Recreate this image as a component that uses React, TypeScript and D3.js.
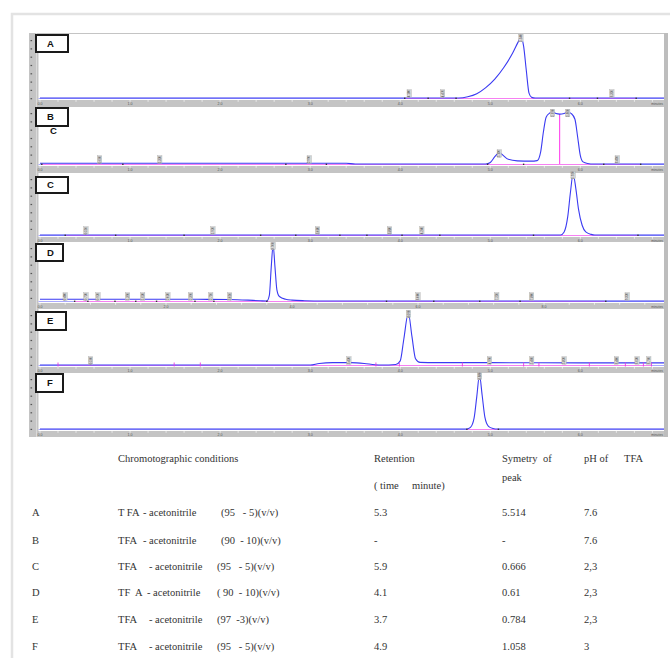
import React from "react";
import * as d3 from "d3";

type Pt = [number, number];

// ---- chromatogram data: [minute, relative intensity %] ----
const panelLetters = ["A", "B", "C", "D", "E", "F"];

const traceA: Pt[] = [[0, 0], [4.65, 0], [4.75, 2], [4.85, 7], [4.95, 17], [5.05, 31], [5.15, 50], [5.25, 74], [5.31, 92], [5.34, 100], [5.37, 85], [5.4, 45], [5.43, 8], [5.46, 1], [5.5, 0], [6.94, 0]];
const traceB: Pt[] = [[0, 1.5], [3.4, 1.5], [3.5, 0], [4.95, 0], [5.0, 3], [5.05, 14], [5.1, 22], [5.14, 17], [5.2, 9], [5.3, 6], [5.45, 5.5], [5.52, 6.5], [5.56, 24], [5.59, 62], [5.62, 90], [5.66, 98], [5.69, 100], [5.73, 97], [5.77, 96], [5.82, 97], [5.86, 100], [5.9, 97], [5.94, 86], [5.97, 52], [6.0, 16], [6.03, 4], [6.08, 1], [6.15, 0], [6.94, 0]];
const traceC: Pt[] = [[0, 0], [5.78, 0], [5.82, 5], [5.86, 30], [5.89, 70], [5.92, 100], [5.95, 76], [5.98, 42], [6.02, 16], [6.06, 5], [6.12, 1], [6.16, 0], [6.94, 0]];
const traceD: Pt[] = [[0, 3], [2.5, 3], [3.0, 2.6], [3.3, 1.5], [3.5, 0.4], [3.6, 0], [3.64, 10], [3.67, 60], [3.7, 100], [3.73, 60], [3.76, 20], [3.8, 8], [3.9, 3], [4.0, 1.5], [4.2, 0.5], [4.5, 0], [9.92, 0]];
const traceE: Pt[] = [[0, 0], [3.0, 0], [3.1, 3], [3.25, 4.5], [3.45, 4.5], [3.6, 3], [3.72, 0.5], [3.8, 0], [3.95, 1], [4.0, 8], [4.04, 50], [4.09, 100], [4.13, 55], [4.17, 12], [4.22, 5], [4.4, 4.5], [5.0, 4.5], [6.0, 4], [6.94, 4]];
const traceF: Pt[] = [[0, 0], [4.74, 0], [4.78, 3], [4.82, 20], [4.85, 60], [4.88, 100], [4.91, 62], [4.94, 22], [4.98, 5], [5.03, 1], [5.08, 0], [6.94, 0]];
const traces = [traceA, traceB, traceC, traceD, traceE, traceF];

// run time shown on each panel's axis (minutes) and major tick step
const axisMax = [6.94, 6.94, 6.94, 9.92, 6.94, 6.94];
const axisStep = [1, 1, 1, 2, 1, 1];

// retention times printed next to integrated peaks
const peakTimesA = [4.1, 4.47, 5.34, 6.35];
const peakTimesB = [0.66, 1.33, 2.99, 5.1, 5.69, 5.86, 6.41];
const peakTimesC = [0.51, 1.92, 3.08, 3.88, 4.24, 5.92];
const peakTimesD = [0.4, 0.73, 0.92, 1.39, 1.63, 2.03, 2.39, 2.71, 3.01, 3.7, 6.0, 7.25, 7.8, 9.32];
const peakTimesE = [0.56, 3.43, 4.09, 4.99, 5.46, 5.82, 6.4, 6.63, 6.76];
const peakTimesF = [4.88];
const peakTimes = [peakTimesA, peakTimesB, peakTimesC, peakTimesD, peakTimesE, peakTimesF];

// integration start / end markers
const markersA = [4.05, 4.31, 4.62, 5.88, 6.19, 6.62];
const markersB = [0.02, 0.92, 2.73, 3.18, 4.97, 5.37, 6.26, 6.67];
const markersC = [0.28, 0.84, 1.6, 2.45, 2.84, 3.33, 3.63, 4.02, 4.44, 5.48, 6.64];
const markersD = [0.55, 0.76, 1.19, 1.52, 1.85, 2.46, 2.76, 3.6, 5.5, 6.25, 6.98, 7.62, 8.98];
const markersE = [0.2, 1.49, 1.78, 3.73, 3.99, 4.69, 5.37, 5.54, 6.1, 6.5, 6.7, 6.79];
const markersF = [4.74, 5.09];
const markers = [markersA, markersB, markersC, markersD, markersE, markersF];

// ---- table data ----
const rowLetters = ["A", "B", "C", "D", "E", "F"];
const solventA = ["T FA", "TFA", "TFA", "TF  A", "TFA", "TFA"];
const ratios = ["(95   - 5)(v/v)", "(90  - 10)(v/v)", "(95   - 5)(v/v)", "( 90  - 10)(v/v)", "(97  -3)(v/v)", "(95   - 5)(v/v)"];
const retention = ["5.3", "-", "5.9", "4.1", "3.7", "4.9"];
const symmetry = ["5.514", "-", "0.666", "0.61", "0.784", "1.058"];
const phValues = ["7.6", "7.6", "2,3", "2,3", "2,3", "3"];

// panel geometry (pixels)
const geom = [
  { top: 33, plotTop: 34, peak: 37, base: 98, strip: 100, bottom: 107, box: [36, 35, 32, 17] },
  { top: 107, plotTop: 107, peak: 112, base: 164, strip: 166, bottom: 172, box: [36, 108, 32, 18] },
  { top: 172, plotTop: 173, peak: 174, base: 235, strip: 237, bottom: 242, box: [36, 177, 32, 16] },
  { top: 242, plotTop: 242, peak: 245, base: 301, strip: 303, bottom: 309, box: [36, 244, 27, 17] },
  { top: 309, plotTop: 309, peak: 313, base: 365, strip: 367, bottom: 373, box: [36, 312, 30, 18] },
  { top: 373, plotTop: 373, peak: 375, base: 429, strip: 431, bottom: 437, box: [36, 374, 27, 18] },
];

const X0 = 40;
const X1 = 665;
const PLOT_L = 38.5;
const PLOT_R = 664;
const TRACE = "#3a3af2";
const BASELINE = "#a9a9ff";
const PINK = "#ff7cf0";
const STRIP = "#c4c4c4";
const SANS = "'Liberation Sans', Arial, sans-serif";
const SERIF = "'Liberation Serif', 'Times New Roman', Times, serif";

function Panel({ i }: { i: number }) {
  const g = geom[i];
  const x = d3.scaleLinear().domain([0, axisMax[i]]).range([X0, X1]);
  const y = d3.scaleLinear().domain([0, 100]).range([g.base, g.peak]);
  const line = d3
    .line<Pt>()
    .x((d) => x(d[0]))
    .y((d) => y(d[1]))
    .curve(d3.curveMonotoneX);
  const data = traces[i];
  const valueAt = (t: number) => {
    const k = d3.bisector((d: Pt) => d[0]).left(data, t);
    if (k <= 0) return data[0][1];
    if (k >= data.length) return data[data.length - 1][1];
    const a = data[k - 1];
    const b = data[k];
    return a[1] + ((b[1] - a[1]) * (t - a[0])) / (b[0] - a[0]);
  };
  const majors = d3.range(0, axisMax[i] - 0.3, axisStep[i]);
  const minors = d3.range(0, axisMax[i], axisStep[i] / 5);
  const leftTicks = d3.range(g.plotTop + 6, g.strip - 1, 8.3);
  const mk = markers[i];
  const [bx, by, bw, bh] = g.box;
  return (
    <g>
      {/* ruler frame */}
      <rect x={29} y={g.top} width={639} height={g.bottom - g.top} fill={STRIP} />
      <rect x={PLOT_L} y={g.plotTop} width={PLOT_R - PLOT_L} height={g.strip - g.plotTop} fill="#fff" />
      <line x1={36.5} x2={36.5} y1={g.top} y2={g.bottom} stroke="#dadada" strokeWidth={1} />
      {leftTicks.map((ty, k) => (
        <rect key={k} x={30.5} y={ty} width={1.6} height={1.2} fill="#555" />
      ))}
      {/* bottom time axis */}
      {minors.map((t, k) => (
        <line key={k} x1={x(t)} x2={x(t)} y1={g.strip} y2={g.strip + 1.8} stroke="#f4f4f4" strokeWidth={0.8} />
      ))}
      {majors.map((t, k) => (
        <text key={k} x={x(t)} y={g.strip + 4.6} fontSize={3.6} fill="#555" textAnchor="middle" style={{ fontFamily: SANS }}>
          {t.toFixed(1)}
        </text>
      ))}
      <text x={663} y={g.strip + 4.6} fontSize={3.4} fill="#555" textAnchor="end" style={{ fontFamily: SANS }}>
        minutes
      </text>
      {/* zero line */}
      <line x1={PLOT_L} x2={PLOT_R} y1={g.base + 0.5} y2={g.base + 0.5} stroke={BASELINE} strokeWidth={1} />
      {/* integration baseline */}
      {mk.length > 1 && (
        <line x1={x(mk[0])} x2={x(mk[mk.length - 1])} y1={g.base + 0.5} y2={g.base + 0.5} stroke={PINK} strokeWidth={0.9} />
      )}
      {i === 1 && (
        <line x1={x(5.77)} x2={x(5.77)} y1={g.base} y2={y(96)} stroke="#ff44ee" strokeWidth={1.1} />
      )}
      {/* signal */}
      <path d={line(data) || ""} fill="none" stroke={TRACE} strokeWidth={1.1} />
      {mk.map((t, k) =>
        i === 4 ? (
          <line key={k} x1={x(t)} x2={x(t)} y1={g.base - 2.5} y2={g.base + 1.5} stroke="#e83ee0" strokeWidth={0.9} />
        ) : (
          <rect key={k} x={x(t) - 0.7} y={g.base - 0.4} width={1.4} height={1.4} fill="#333" />
        )
      )}
      {/* retention time tags */}
      {peakTimes[i].map((t, k) => {
        const v = valueAt(t);
        const big = v > 15;
        const cy = big ? y(v) + 1 : g.base - 4.5;
        const cx = x(t);
        return (
          <g key={k}>
            <rect x={cx - 2.2} y={cy - 3.8} width={4.4} height={7.6} fill="#d9d9d9" stroke="#9a9a9a" strokeWidth={0.3} />
            <text
              transform={`translate(${cx + 1.2},${cy}) rotate(-90)`}
              fontSize={3}
              fill="#444"
              textAnchor="middle"
              style={{ fontFamily: SANS }}
            >
              {t.toFixed(3)}
            </text>
          </g>
        );
      })}
      {/* panel tag */}
      <rect x={bx} y={by} width={bw} height={bh} fill="#fff" stroke="#1a1a1a" strokeWidth={2} />
      <text x={bx + 11} y={by + bh / 2 + 3.3} fontSize={9.5} fontWeight="bold" fill="#111" style={{ fontFamily: SANS }}>
        {panelLetters[i]}
      </text>
      {i === 1 && (
        <text x={50} y={134} fontSize={9.5} fontWeight="bold" fill="#111" style={{ fontFamily: SANS }}>
          C
        </text>
      )}
    </g>
  );
}

function Cell({ x, y, children }: { x: number; y: number; children: React.ReactNode }) {
  return (
    <text x={x} y={y} xmlSpace="preserve" fontSize={10.5} fill="#333" style={{ fontFamily: SERIF, whiteSpace: "pre" }}>
      {children}
    </text>
  );
}

export default function App() {
  const rowY = [516, 544, 570, 596, 623, 650];
  const acetoX = [143, 143, 149, 147, 149, 149];
  const ratioX = [221, 221, 217, 217, 217, 217];
  return (
    <svg width={670} height={658} style={{ position: "absolute", left: 0, top: 0, background: "#fff" }}>
      <rect x={12} y={14} width={700} height={700} fill="none" stroke="#e3e3e3" strokeWidth={2.5} />
      {geom.map((_, i) => (
        <Panel key={i} i={i} />
      ))}
      <rect x={664} y={33} width={4} height={404} fill="#bdbdbd" />
      <Cell x={118} y={462}>Chromotographic conditions</Cell>
      <Cell x={374} y={462}>Retention</Cell>
      <Cell x={374} y={489}>( time</Cell>
      <Cell x={412} y={489}>minute)</Cell>
      <Cell x={502} y={462}>Symetry</Cell>
      <Cell x={543} y={462}>of</Cell>
      <Cell x={502} y={481}>peak</Cell>
      <Cell x={584} y={462}>pH of</Cell>
      <Cell x={624} y={462}>TFA</Cell>
      {rowLetters.map((r, k) => (
        <g key={r}>
          <Cell x={32} y={rowY[k]}>{r}</Cell>
          <Cell x={118} y={rowY[k]}>{solventA[k]}</Cell>
          <Cell x={acetoX[k]} y={rowY[k]}>- acetonitrile</Cell>
          <Cell x={ratioX[k]} y={rowY[k]}>{ratios[k]}</Cell>
          <Cell x={374} y={rowY[k]}>{retention[k]}</Cell>
          <Cell x={502} y={rowY[k]}>{symmetry[k]}</Cell>
          <Cell x={584} y={rowY[k]}>{phValues[k]}</Cell>
        </g>
      ))}
    </svg>
  );
}
